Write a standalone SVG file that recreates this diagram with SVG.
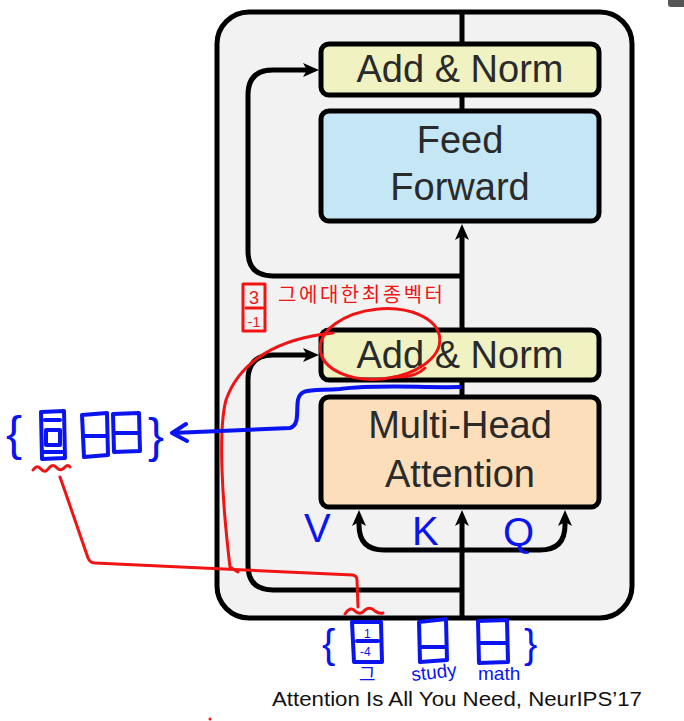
<svg xmlns="http://www.w3.org/2000/svg" width="684" height="721" viewBox="0 0 684 721">
<style>
.box{stroke:#000;stroke-width:5}
.lbl{font-family:"Liberation Sans",Arial,sans-serif;font-size:38px;fill:#2a2a2a;text-anchor:middle}
.conn{fill:none;stroke:#000;stroke-width:5}
.blue{fill:none;stroke:#0a14f0;stroke-width:4;stroke-linecap:round;stroke-linejoin:round}
.red{fill:none;stroke:#f01414;stroke-width:3;stroke-linecap:round;stroke-linejoin:round}
.bt{font-family:"Liberation Sans","Noto Sans CJK KR",sans-serif;fill:#0a14f0}
.rt{font-family:"Liberation Sans","Noto Sans CJK KR",sans-serif;fill:#f01414}
</style>
<defs>
<marker id="ah" viewBox="0 0 16 16" refX="4" refY="8" markerWidth="16" markerHeight="16" markerUnits="userSpaceOnUse" orient="auto">
<path d="M0,1 L16,8 L0,15 L4,8 z" fill="#000"/>
</marker>
</defs>
<rect width="684" height="721" fill="#fff"/>
<rect x="668" y="-5" width="20" height="12" rx="3" fill="#555"/>
<g id="outer">
<rect x="217" y="12" width="415" height="606" rx="32" fill="#f2f2f2" stroke="#000" stroke-width="5"/>
</g>
<g id="connectors">
<path class="conn" d="M462,12 V44"/>
<path class="conn" d="M462,96 V111"/>
<path class="conn" d="M462,330 V236" marker-end="url(#ah)"/>
<path class="conn" d="M462,276 H273 Q248,276 248,251 V95 Q248,70 273,70 H307" marker-end="url(#ah)"/>
<path class="conn" d="M462,380 V397"/>
<path class="conn" d="M462,618 V522" marker-end="url(#ah)"/>
<path class="conn" d="M462,550 H384 Q359,550 359,525 V522" marker-end="url(#ah)"/>
<path class="conn" d="M462,550 H540 Q565,550 565,525 V522" marker-end="url(#ah)"/>
<path class="conn" d="M462,590 H273 Q248,590 248,565 V380 Q248,355 273,355 H307" marker-end="url(#ah)"/>
</g>
<g id="addnorm1">
<rect class="box" x="321" y="44" width="278" height="51" rx="8" fill="#f0f2c2"/>
<text class="lbl" x="460" y="82">Add &amp; Norm</text>
</g>
<g id="feedforward">
<rect class="box" x="321" y="111" width="278" height="110" rx="8" fill="#c4e6f5"/>
<text class="lbl" x="460" y="153">Feed</text>
<text class="lbl" x="460" y="200">Forward</text>
</g>
<g id="addnorm2">
<rect class="box" x="321" y="330" width="278" height="50" rx="8" fill="#f0f2c2"/>
<text class="lbl" x="460" y="368">Add &amp; Norm</text>
</g>
<g id="mha">
<rect class="box" x="321" y="397" width="278" height="110" rx="8" fill="#fcdeba"/>
<text class="lbl" x="460" y="438">Multi-Head</text>
<text class="lbl" x="460" y="487">Attention</text>
</g>
<g id="caption">
<text x="272" y="706" font-family="'Liberation Sans',Arial,sans-serif" font-size="21" fill="#111" textLength="370" lengthAdjust="spacingAndGlyphs">Attention Is All You Need, NeurIPS’17</text>
</g>
<g id="red-notes">
<ellipse class="red" cx="380" cy="344" rx="60" ry="35" transform="rotate(-6 380 344)"/>
<path class="red" d="M395,377 Q415,378 425,368"/>
<path class="red" d="M333,333 C280,338 240,360 226,400 C218,430 222,500 230,567 L238,572"/>
<path class="red" d="M60,477 L67,497 L88,558 Q90,563 95,563 L353,575 Q357,576 357,580 L358,607"/>
<path class="red" d="M345,614 q5,-8 10,-3 q5,5 10,-1 q5,-4 10,1 q4,3 8,2"/>
<path class="red" d="M33,470 q4,-6 8,-1 q4,5 8,-1 q4,-5 8,0 q4,4 8,-1 q3,-3 5,0"/>
<rect class="red" x="243" y="284" width="22" height="47"/>
<path class="red" d="M246,308 H263"/>
<text class="rt" x="254" y="304" font-size="18" text-anchor="middle">3</text>
<text class="rt" x="254" y="327" font-size="14" text-anchor="middle">-1</text>
<text class="rt" x="278" y="302" font-size="20" textLength="165" font-family="'Noto Sans CJK KR',sans-serif">그에대한최종벡터</text>
<circle cx="210" cy="719" r="1.5" fill="#f01414"/>
</g>
<g id="blue-left">
<text class="bt" x="6" y="450" font-size="48">{</text>
<path class="blue" d="M41,412 L64,411 L65,458 L42,459 Z M45,420 H60 M46,430 H60 V445 H46 Z M44,452 H62"/>
<path class="blue" d="M82,415 L107,413 L108,455 L84,457 Z M83,436 H107"/>
<path class="blue" d="M113,414 L139,413 L140,451 L114,452 Z M114,433 H139"/>
<text class="bt" x="148" y="452" font-size="48">}</text>
<path class="blue" d="M460,387 C420,388 380,384 340,389 C310,391 300,388 298,400 C296,410 300,425 290,428 L172,433 M186,424 L172,433 L187,441"/>
</g>
<g id="blue-vkq">
<text class="bt" x="304" y="542" font-size="40">V</text>
<text class="bt" x="412" y="545" font-size="40">K</text>
<text class="bt" x="503" y="546" font-size="40">Q</text>
</g>
<g id="blue-bottom">
<text class="bt" x="322" y="658" font-size="40">{</text>
<path class="blue" d="M352,622 L381,622 L382,662 L354,662 Z M357,641 H378"/>
<text class="bt" x="364" y="638" font-size="12">1</text>
<text class="bt" x="360" y="656" font-size="12">-4</text>
<text class="bt" x="359" y="681" font-size="18" font-family="'Noto Sans CJK KR',sans-serif">그</text>
<text class="bt" x="412" y="681" font-size="19" transform="rotate(-6 412 681)">study</text>
<path class="blue" d="M419,622 L446,619 L447,660 L420,662 Z M420,647 H446"/>
<path class="blue" d="M478,621 L507,620 L508,662 L479,663 Z M479,643 H507"/>
<text class="bt" x="478" y="680" font-size="19">math</text>
<text class="bt" x="524" y="658" font-size="40">}</text>
</g>
</svg>
